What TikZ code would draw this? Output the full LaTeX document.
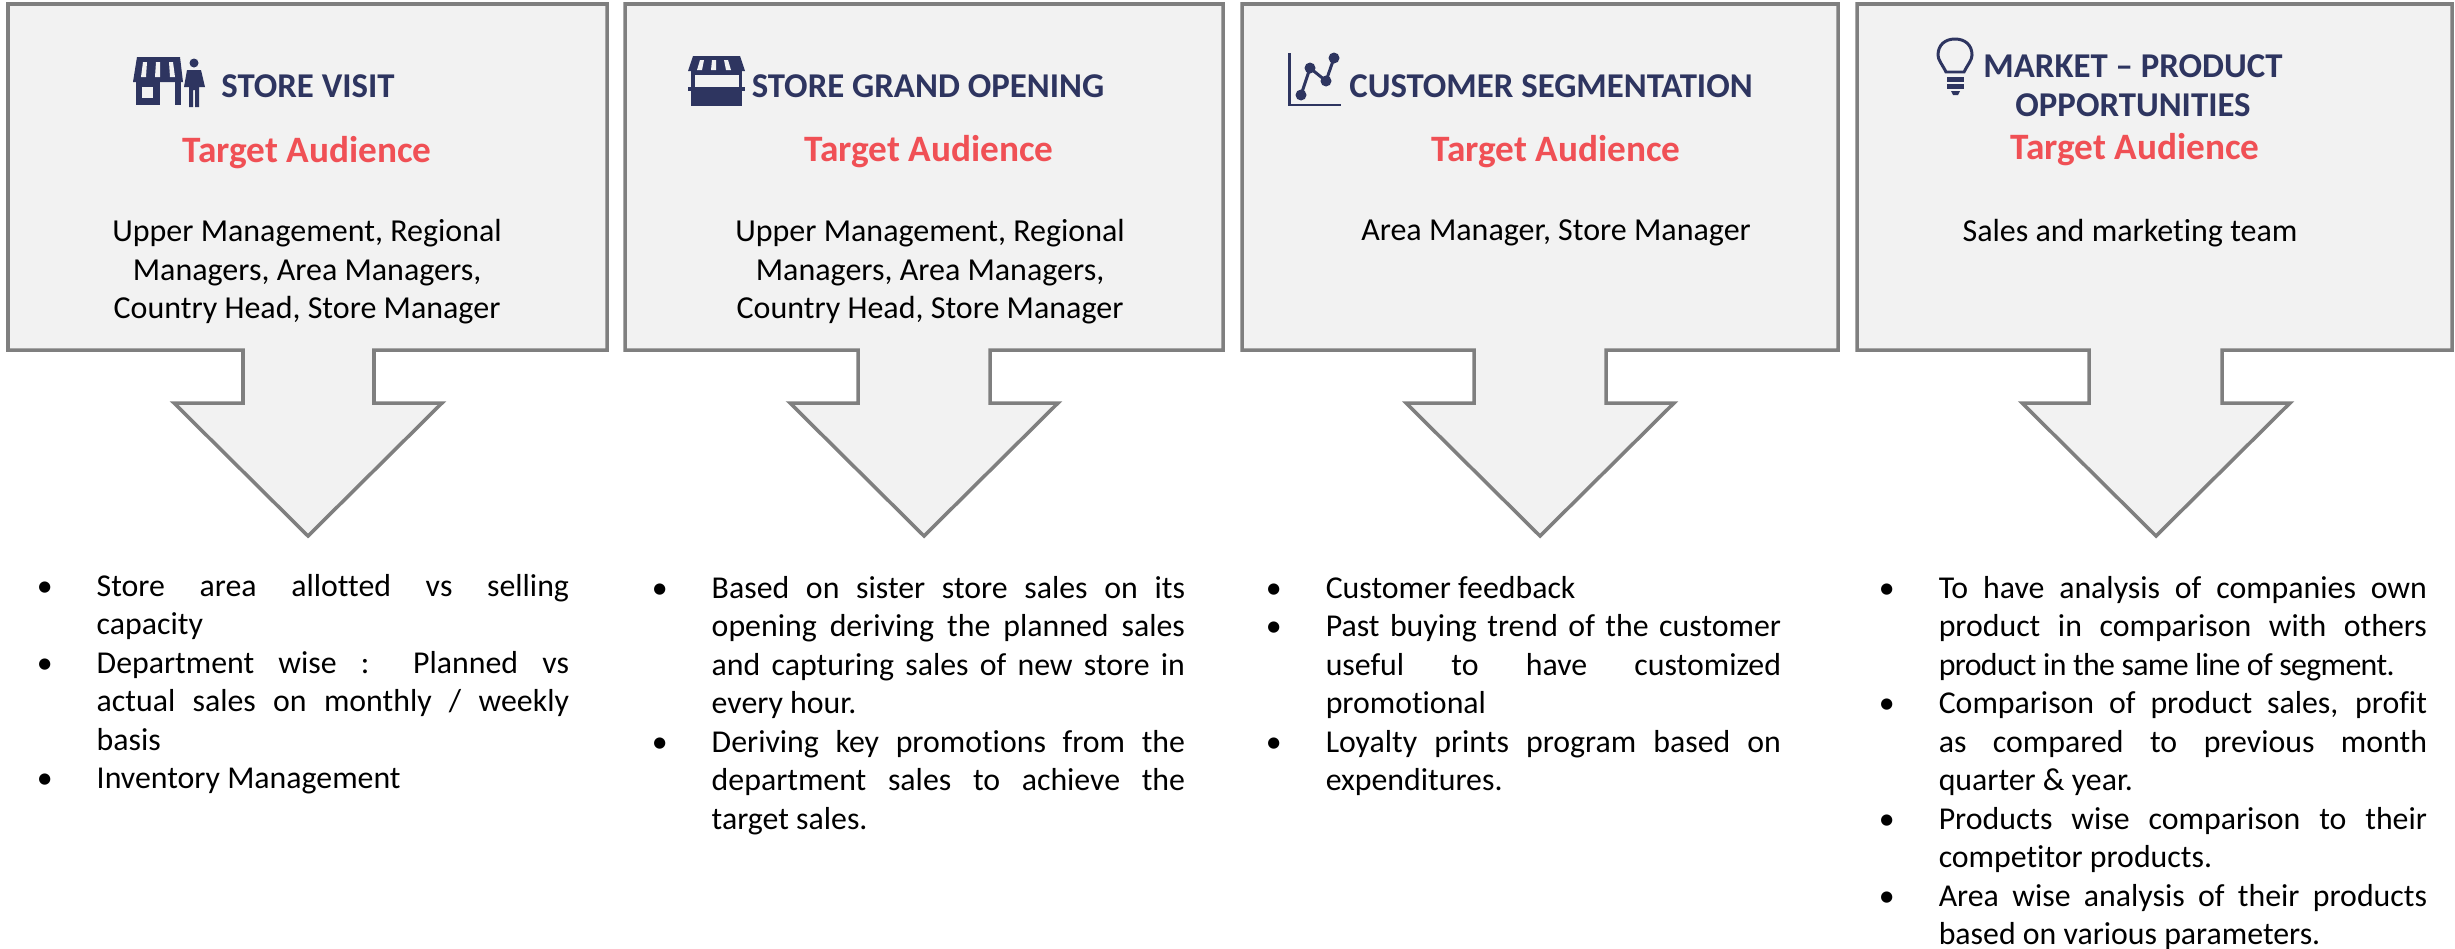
\documentclass[tikz,border=0pt]{standalone}
\usepackage{fontspec}
\setmainfont{Carlito}[Ligatures=NoCommon]
\usepackage{xcolor}
\definecolor{boxgray}{RGB}{242, 242, 242}
\definecolor{edgegray}{RGB}{127, 127, 127}
\definecolor{titlenavy}{RGB}{46, 53, 96}
\definecolor{audiencered}{RGB}{240, 80, 85}
\newenvironment{pointlist}{%
    \begin{list}{\textbullet}{%
        \setlength{\leftmargin}{0.6cm}\setlength{\labelsep}{0.44cm}\setlength{\labelwidth}{0.16cm}%
        \setlength{\topsep}{0pt}\setlength{\partopsep}{0pt}\setlength{\itemsep}{0pt}\setlength{\parsep}{0pt}}%
    \hyphenpenalty=10000\hbadness=10000\hfuzz=20pt\tolerance=9999}{\end{list}}

\begin{document}
\begin{tikzpicture}[
        x=0.01cm, y=-0.01cm,
        callout/.style={draw=edgegray, fill=boxgray, line width=1pt, miter limit=10},
        heading/.style={font=\fontsize{9.9}{11}\selectfont\bfseries, text=titlenavy, align=center, inner sep=0pt},
        audience/.style={font=\fontsize{10.6}{13}\selectfont\bfseries, text=audiencered, inner sep=0pt},
        roles/.style={font=\fontsize{9.1}{10.95}\selectfont, align=center, inner sep=0pt},
        points/.style={font=\fontsize{9.05}{10.95}\selectfont, anchor=north west, align=justify, inner sep=0pt},
        glyph/.style={fill=titlenavy, draw=none},
        cutout/.style={fill=boxgray, draw=none},
        glyphline/.style={draw=titlenavy, line width=0.85pt}
    ]
        \useasboundingbox (0,0) rectangle (2455,948);

        % Callouts
        \draw[callout] (8,4) -- (607,4) -- (607,350) -- (374,350) -- (374,403) -- (442,403) -- (308,536) -- (174,403) -- (243,403) -- (243,350) -- (8,350) -- cycle;
        \draw[callout] (625,4) -- (1223,4) -- (1223,350) -- (990,350) -- (990,403) -- (1058,403) -- (924,536) -- (790,403) -- (858,403) -- (858,350) -- (625,350) -- cycle;
        \draw[callout] (1242,4) -- (1838,4) -- (1838,350) -- (1606,350) -- (1606,403) -- (1674,403) -- (1540,536) -- (1406,403) -- (1474,403) -- (1474,350) -- (1242,350) -- cycle;
        \draw[callout] (1857,4) -- (2452,4) -- (2452,350) -- (2222,350) -- (2222,403) -- (2290,403) -- (2156,536) -- (2022,403) -- (2089,403) -- (2089,350) -- (1857,350) -- cycle;

        % Store visit
        \node[heading] (visit) at (308,86) {STORE VISIT};
        \node[audience] (visitaud) at (307,153) {Target Audience};
        \node[roles] (visitroles) at (307,272) {Upper Management, Regional\\Managers, Area Managers,\\Country Head, Store Manager};
        \fill[glyph] (137,57) -- (180,57) -- (183,82) -- (133,82) -- cycle;
        \fill[cutout] (143,62) -- (147,62) -- (146,77) -- (141,77) -- cycle;
        \fill[cutout] (156,62) -- (160,62) -- (160,77) -- (155,77) -- cycle;
        \fill[cutout] (169,62) -- (173,62) -- (175,77) -- (170,77) -- cycle;
        \fill[glyph] (136,82) rectangle (160,105);
        \fill[glyph] (175,82) rectangle (181,105);
        \fill[cutout] (142,87) rectangle (153,98);
        \fill[glyph] (194,63) circle (4.5);
        \fill[glyph] (187,70) -- (201,70) -- (205,87) -- (199,87) -- (199,107) -- (195,107) -- (195,90) -- (193,90) -- (193,107) -- (189,107) -- (189,87) -- (184,87) -- cycle;

        % Store grand opening
        \node[heading] (opening) at (928,86) {STORE GRAND OPENING};
        \node[audience] (openingaud) at (929,152) {Target Audience};
        \node[roles] (openingroles) at (930,272) {Upper Management, Regional\\Managers, Area Managers,\\Country Head, Store Manager};
        \fill[glyph] (693,56) -- (740,56) -- (745,71) -- (688,71) -- cycle;
        \fill[cutout] (700,60) -- (704,60) -- (702,70) -- (697,70) -- cycle;
        \fill[cutout] (712,60) -- (716,60) -- (716,70) -- (711,70) -- cycle;
        \fill[cutout] (724,60) -- (728,60) -- (731,70) -- (726,70) -- cycle;
        \fill[glyph] (691,71) rectangle (742,75);
        \fill[glyph] (691,75) rectangle (695,87);
        \fill[glyph] (739,75) rectangle (742,87);
        \fill[glyph] (688,87) rectangle (745,91);
        \fill[glyph] (691,91) rectangle (742,106);

        % Customer segmentation
        \node[heading] (segment) at (1551,86) {CUSTOMER SEGMENTATION};
        \node[audience] (segmentaud) at (1556,152) {Target Audience};
        \node[roles] (segmentroles) at (1556,233) {Area Manager, Store Manager};
        \draw[glyphline] (1289,53) -- (1289,105) -- (1341,105);
        \draw[glyphline] (1301,95) -- (1310,68) -- (1326,81) -- (1334,58);
        \fill[glyph] (1301,95) circle (5.5);
        \fill[glyph] (1310,68) circle (5.5);
        \fill[glyph] (1326,81) circle (5.5);
        \fill[glyph] (1334,58) circle (5.5);

        % Market opportunities
        \node[heading] (market) at (2133,86) {MARKET -- PRODUCT\\OPPORTUNITIES};
        \node[audience] (marketaud) at (2135,150) {Target Audience};
        \node[roles] (marketroles) at (2130,233) {Sales and marketing team};
        \draw[glyphline] (1946,72) .. controls (1942,64) and (1938,60) .. (1938,55) .. controls (1938,45) and (1945,39) .. (1955,39) .. controls (1965,39) and (1972,45) .. (1972,55) .. controls (1972,60) and (1968,64) .. (1964,72) -- cycle;
        \fill[glyph] (1947,77) rectangle (1964,82);
        \fill[glyph] (1947,84) rectangle (1964,89);
        \fill[glyph] (1951,91) -- (1960,91) -- (1958,95) -- (1953,95) -- cycle;

        % Lists
        \node[points, text width=5.32cm] (visitlist) at (36,557) {\begin{pointlist}
            \item Store area allotted vs selling\linebreak capacity
            \item Department wise : Planned vs\linebreak actual sales on monthly / weekly\linebreak basis
            \item Inventory Management
        \end{pointlist}};
        \node[points, text width=5.33cm] (openinglist) at (651,559) {\begin{pointlist}
            \item Based on sister store sales on its\linebreak opening deriving the planned sales\linebreak and capturing sales of new store in\linebreak every hour.
            \item Deriving key promotions from the\linebreak department sales to achieve the\linebreak target sales.
        \end{pointlist}};
        \node[points, text width=5.15cm] (segmentlist) at (1265,559) {\begin{pointlist}
            \item Customer feedback
            \item Past buying trend of the customer\linebreak useful to have customized\linebreak promotional
            \item Loyalty prints program based on\linebreak expenditures.
        \end{pointlist}};
        \node[points, text width=5.48cm] (marketlist) at (1878,559) {\begin{pointlist}
            \item To have analysis of companies own\linebreak product in comparison with others\linebreak {\addfontfeature{LetterSpace=-2}product in the same line of segment.}
            \item Comparison of product sales, profit\linebreak as compared to previous month\linebreak quarter \& year.
            \item Products wise comparison to their\linebreak competitor products.
            \item Area wise analysis of their products\linebreak based on various parameters.
        \end{pointlist}};
    \end{tikzpicture}
\end{document}
